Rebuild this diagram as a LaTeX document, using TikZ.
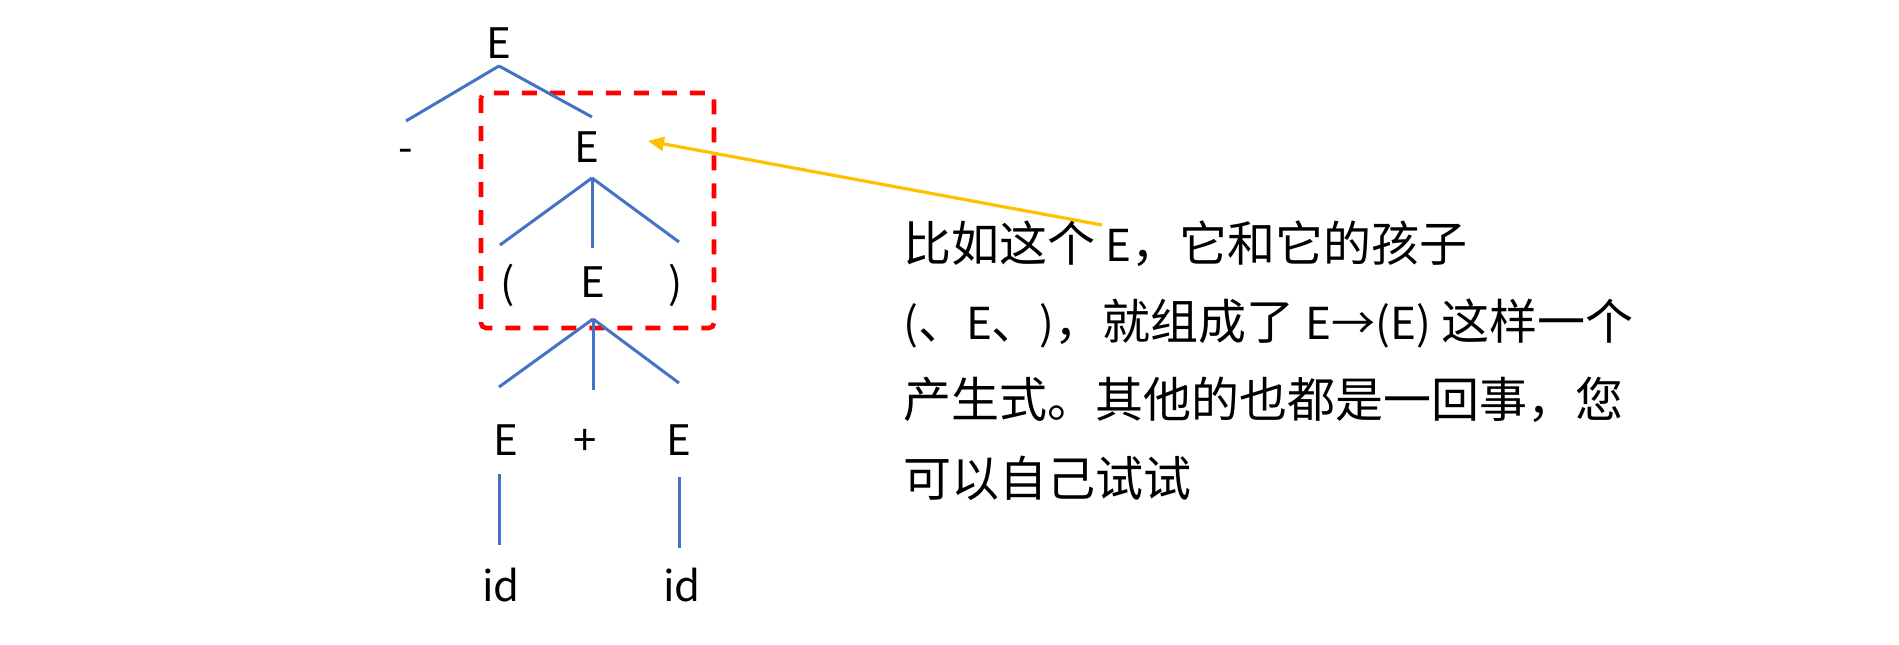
\documentclass[tikz,border=0pt]{standalone}
\usepackage{fontspec}
\setmainfont{Noto Sans CJK SC}
\usetikzlibrary{arrows.meta}
\definecolor{treeblue}{HTML}{4472C4}
\definecolor{boxred}{HTML}{FF0000}
\definecolor{noteyellow}{HTML}{FFC000}
\newcommand{\en}[1]{{\fontsize{44}{44}\selectfont #1}}

\begin{document}
\begin{tikzpicture}[x=1pt, y=-1pt, n/.style={inner sep=0pt, font=\fontsize{42}{42}\selectfont}, t/.style={inner sep=0pt, anchor=base west, font=\fontsize{48}{48}\selectfont}, br/.style={draw=treeblue, line width=3pt}]
            \useasboundingbox (0,0) rectangle (1899,645);

            \draw[boxred, line width=4.6pt, dash pattern=on 15pt off 13pt, rounded corners=5pt] (481,93) rectangle (714,328);

            \node[n] (e0) at (499,43) {E};
            \node[n] (minus) at (406,156) {-};
            \node[n] (e1) at (587,147) {E};
            \node[n] (lp) at (508,285) {(};
            \node[n] (e2) at (593,282) {E};
            \node[n] (rp) at (676,285) {)};
            \node[n] (e3) at (506,440) {E};
            \node[n] (plus) at (585,442) {+};
            \node[n] (e4) at (679,440) {E};
            \node[n] (id1) at (501,585) {id};
            \node[n] (id2) at (682,585) {id};

            \coordinate (j0) at (499,66);
            \coordinate (a0) at (406,121);
            \coordinate (b0) at (592,117);
            \coordinate (j1) at (592,178);
            \coordinate (a1) at (500,245);
            \coordinate (b1) at (592,248);
            \coordinate (c1) at (679,242);
            \coordinate (j2) at (593,319);
            \coordinate (a2) at (499,387);
            \coordinate (b2) at (593,390);
            \coordinate (c2) at (679,383);
            \coordinate (a3) at (499,474);
            \coordinate (b3) at (499,545);
            \coordinate (a4) at (679,477);
            \coordinate (b4) at (679,548);

            \draw[br] (j0) edge (a0);
            \draw[br] (j0) edge (b0);
            \draw[br] (j1) edge (a1);
            \draw[br] (j1) edge (b1);
            \draw[br] (j1) edge (c1);
            \draw[br] (j2) edge (a2);
            \draw[br] (j2) edge (b2);
            \draw[br] (j2) edge (c2);
            \draw[br] (a3) edge (b3);
            \draw[br] (a4) edge (b4);

            \node[t] (t1) at (903,261) {比如这个 \en{E}，它和它的孩子};
            \node[t] (t2) at (903,339) {\en{(}、\en{E}、\en{)}，就组成了 \en{E→(E)} 这样一个};
            \node[t] (t3) at (903,417) {产生式。其他的也都是一回事，您};
            \node[t] (t4) at (903,496) {可以自己试试};

            \coordinate (tail) at (1102,225);
            \coordinate (tip) at (648,141);
            \draw[noteyellow, line width=3.2pt, -{Triangle[length=16pt, width=14pt]}] (tail) -- (tip);
        \end{tikzpicture}
\end{document}
